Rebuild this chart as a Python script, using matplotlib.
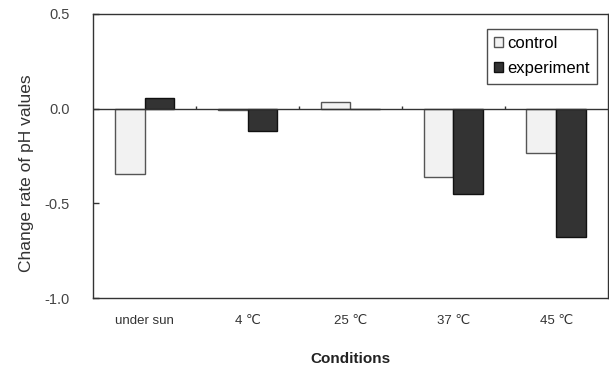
import numpy as np
import matplotlib.pyplot as plt

plt.rcParams['font.family'] = ['Liberation Sans', 'DejaVu Sans']

conditions = ['under sun', '4 \u2103', '25 \u2103', '37 \u2103', '45 \u2103']
control = [-0.347, -0.005, 0.037, -0.36, -0.233]
experiment = [0.055, -0.116, 0.0, -0.45, -0.677]

fig = plt.figure(figsize=(6.09, 3.68), dpi=100)
ax = fig.add_axes([0.153, 0.19, 0.845, 0.772])

x = np.arange(len(conditions))
w = 0.29
ax.bar(x - w/2, control, w, color='#f2f2f2', edgecolor='#555555', linewidth=1.0, label='control')
ax.bar(x + w/2, experiment, w, color='#333333', edgecolor='#111111', linewidth=1.0, label='experiment')

# category axis crossing at zero
ax.axhline(0, color='#333333', lw=1.0, zorder=3)
ax.vlines(x[:-1] + 0.5, 0, 0.016, color='#333333', lw=1.0, zorder=3)

ax.set_xlim(-0.5, len(conditions) - 0.5)
ax.set_ylim(-1.0, 0.5)
ax.set_yticks([-1.0, -0.5, 0.0, 0.5])
ax.set_yticklabels(['-1.0', '-0.5', '0.0', '0.5'])
ax.set_xticks(x)
ax.set_xticklabels(conditions)
ax.tick_params(axis='x', length=0, pad=12, labelsize=9.5, labelcolor='#333333')
ax.tick_params(axis='y', direction='in', length=4, width=1.0, pad=17, labelsize=10.5, labelcolor='#444444', color='#333333')
for s in ax.spines.values():
    s.set_color('#333333')
    s.set_linewidth(1.0)

ax.set_ylabel('Change rate of pH values', fontsize=12.5, color='#333333')
ax.yaxis.set_label_coords(-0.115, 0.44)
ax.set_xlabel('Conditions', fontsize=11, fontweight='bold', color='#222222', labelpad=18)

leg = ax.legend(loc='upper right', bbox_to_anchor=(0.98, 0.948), borderaxespad=0, fontsize=12,
                frameon=True, fancybox=False, handlelength=0.55, handleheight=0.55, handletextpad=0.25,
                labelspacing=0.6, borderpad=0.45)
leg.get_frame().set_edgecolor('#222222')
leg.get_frame().set_linewidth(1.0)

fig.savefig('out.png', dpi=100)
